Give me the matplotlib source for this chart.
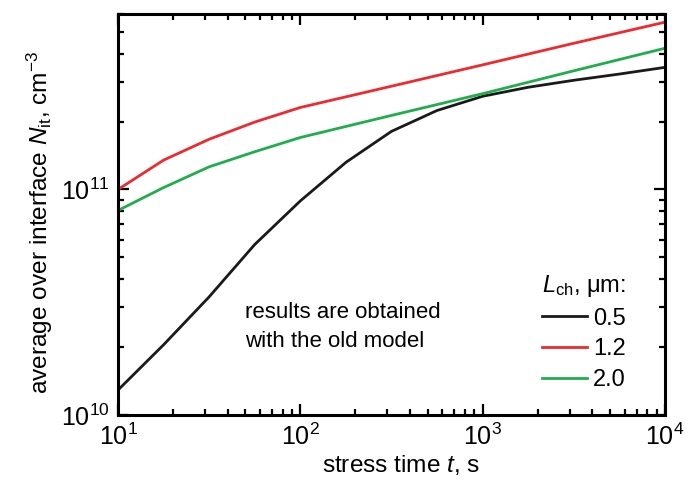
import numpy as np
import matplotlib
matplotlib.use("Agg")
import matplotlib.pyplot as plt
from matplotlib.ticker import LogLocator, NullFormatter

plt.rcParams["font.family"] = ["Liberation Sans", "DejaVu Sans"]
plt.rcParams["mathtext.fontset"] = "custom"
plt.rcParams["mathtext.rm"] = "Liberation Sans"
plt.rcParams["mathtext.it"] = "Liberation Sans:italic"

# ---------------- DATA ----------------

t_black = [10, 17.8, 31.6, 56.2, 100, 178, 316, 562, 1000, 1778, 3162, 5623, 10000]
n_black = [1.29e10, 2.05e10, 3.34e10, 5.7e10, 8.9e10, 1.32e11, 1.81e11, 2.24e11,
           2.59e11, 2.84e11, 3.05e11, 3.25e11, 3.48e11]

t_red = [10, 17.8, 31.6, 56.2, 100, 316, 1000, 3162, 10000]
n_red = [1.0e11, 1.35e11, 1.67e11, 1.99e11, 2.31e11, 2.87e11, 3.57e11, 4.45e11, 5.52e11]

t_green = [10, 17.8, 31.6, 56.2, 100, 316, 1000, 3162, 10000]
n_green = [8.07e10, 1.02e11, 1.26e11, 1.47e11, 1.70e11, 2.13e11, 2.66e11, 3.36e11, 4.23e11]

labels = ["0.5", "1.2", "2.0"]
colors = ["#1a1a1a", "#ee2a2e", "#1fae4b"]

# ---------------- PLOT ----------------

fig = plt.figure(figsize=(6.93, 4.82), dpi=100)
ax = fig.add_axes([118 / 693, 1 - 415 / 482, 547 / 693, 401 / 482])

for t, n, lab, c in zip([t_black, t_red, t_green], [n_black, n_red, n_green], labels, colors):
    ax.plot(t, n, color=c, lw=2.0, label=lab)

ax.set_xscale("log")
ax.set_yscale("log")
ax.set_xlim(10, 1e4)
ax.set_ylim(1e10, 6e11)

ax.yaxis.set_major_locator(LogLocator(base=10, numticks=10))
ax.yaxis.set_minor_locator(LogLocator(base=10, subs=np.arange(2, 10), numticks=20))
ax.yaxis.set_minor_formatter(NullFormatter())
ax.xaxis.set_minor_formatter(NullFormatter())

for s in ax.spines.values():
    s.set_linewidth(2.2)
ax.tick_params(which="both", direction="in", top=True, right=True, width=1.6,
               labelsize=18, pad=6)
ax.tick_params(which="major", length=8)
ax.tick_params(which="minor", length=4)

ax.set_xlabel("stress time $t$, s", fontsize=17.6, labelpad=2, x=0.517)
ax.set_ylabel("average over interface $N_{\\rm it}$, cm$^{-3}$", fontsize=17.6,
              labelpad=4, y=0.48)

ax.text(0.232, 0.22, "results are obtained\nwith the old model", fontsize=16,
        ha="left", va="center", linespacing=1.5, transform=ax.transAxes)

leg = ax.legend(title="$L_{\\rm ch}$, μm:", loc="lower right", frameon=False,
                bbox_to_anchor=(0.95, 0.03), borderpad=0,
                fontsize=17, title_fontsize=17, handlelength=1.9,
                handletextpad=0.25, labelspacing=0.37)

fig.savefig("out.png", dpi=100)
